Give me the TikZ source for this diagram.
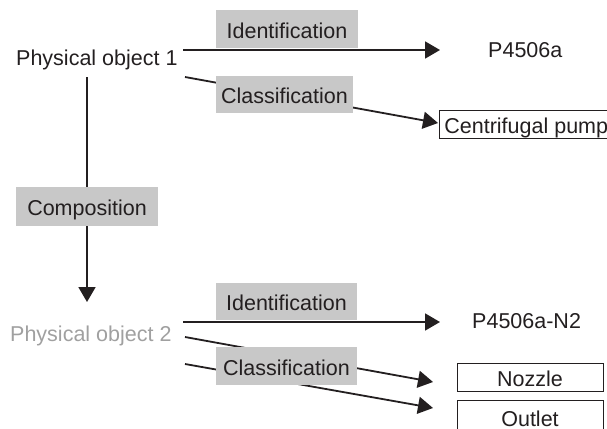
\documentclass[tikz,border=0pt]{standalone}
\usepackage{fontspec}
\setmainfont{Liberation Sans}
\usetikzlibrary{arrows.meta}
\definecolor{ink}{HTML}{231F20}
\definecolor{labelfill}{HTML}{C8C8C8}
\definecolor{faded}{HTML}{A0A0A0}
\begin{document}
\begin{tikzpicture}[x=1pt,y=-1pt,
  every node/.style={font=\fontsize{21.5}{25}\selectfont, text=ink, inner sep=0pt},
  relbox/.style={fill=labelfill, minimum width=142pt, minimum height=38pt,
    text height=18pt, text depth=0pt},
  termbox/.style={draw=ink, line width=0.8pt, fill=white, minimum height=28pt,
    text height=18pt, text depth=0pt},
  link/.style={draw=ink, line width=1.8pt, -{Triangle[length=15pt,width=17pt]}},
  plain/.style={anchor=base west}]
\useasboundingbox (0,0) rectangle (607,428);
\clip (0,0) rectangle (607,428);

% connector end points
\coordinate (a1s) at (183,50);  \coordinate (a1e) at (440,50);
\coordinate (c1s) at (185,77);  \coordinate (c1e) at (438,123);
\coordinate (vs)  at (87,77);   \coordinate (ve)  at (87,302);
\coordinate (a2s) at (183,322); \coordinate (a2e) at (440,322);
\coordinate (n2s) at (185,337); \coordinate (n2e) at (433,382);
\coordinate (o2s) at (185,364); \coordinate (o2e) at (433,408);

% connectors (drawn first, the relation labels sit on top)
\draw[link] (a1s) -- (a1e);
\draw[link] (c1s) -- (c1e);
\draw[link] (vs) -- (ve);
\draw[link] (a2s) -- (a2e);
\draw[link] (n2s) -- (n2e);
\draw[link] (o2s) -- (o2e);

% objects and values
\node[plain] (po1) at (16,66) {Physical object 1};
\node[plain] (id1t) at (488,58) {P4506a};
\node[termbox, anchor=west, inner xsep=5pt] (pump) at (439,124) {Centrifugal pump};
\node[plain, text=faded] (po2) at (10,341.5) {Physical object 2};
\node[plain] (id2t) at (472,328) {P4506a-N2};
\node[termbox, minimum width=146pt] (nozzle) at (530,377) {Nozzle};
\node[termbox, minimum width=146pt, minimum height=30pt, text height=22pt] (outlet) at (530,415) {Outlet};

% relation labels
\node[relbox] (id1) at (287,29) {Identification};
\node[relbox, minimum width=137pt, minimum height=37pt] (cl1) at (284.5,94.5) {Classification};
\node[relbox, minimum height=39pt] (comp) at (87,206.5) {Composition};
\node[relbox, minimum width=141pt, minimum height=37pt] (id2) at (286.5,301.3) {Identification};
\node[relbox, minimum width=141pt] (cl2) at (286.5,366) {Classification};
\end{tikzpicture}
\end{document}
